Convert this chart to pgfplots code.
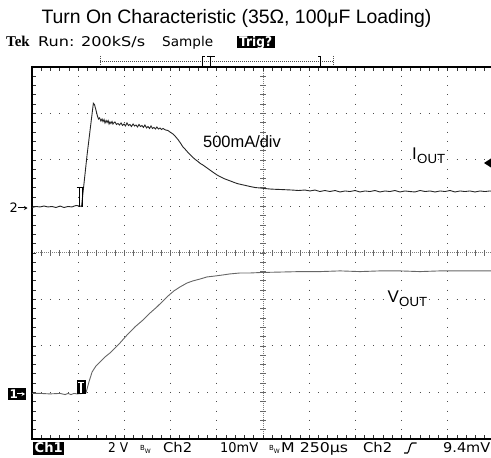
\documentclass[border=0pt]{standalone}
\usepackage{pgfplots}
\pgfplotsset{compat=1.18}
\usepackage{pgfplotstable}
\usepackage{graphicx}
\usepackage{fontspec}
\usetikzlibrary{arrows.meta}
\setmainfont{Liberation Sans}
\newfontfamily\tekfont{DejaVu Sans}
\newfontfamily\tekserif{Liberation Serif}
% screen text, stretched to the width it takes on the scope (bp)
\newcommand\tk[2]{\resizebox{#1bp}{\height}{\tekfont\fontsize{13.5}{14}\selectfont #2}}
\newcommand\bw{{\tekfont\fontsize{7}{7}\selectfont B}\raisebox{-2.5bp}{\tekfont\fontsize{6}{6}\selectfont W}}

% Ch2: output current, mA (500 mA/div), time in us (250 us/div)
\pgfplotstableread{
t I
0 -11
22 0
43 -5
65 5
87 -5
108 0
130 -11
152 5
173 -11
195 0
216 -5
238 11
260 5
268 0
298 554
332 1110
338 1097
346 1038
354 973
360 941
366 952
373 919
379 941
384 913
390 935
395 898
401 925
406 903
412 925
417 887
422 909
427 892
433 914
438 887
444 903
449 909
457 882
465 892
473 876
482 898
490 871
498 887
506 866
514 898
522 871
530 882
538 860
547 887
555 866
563 876
571 855
579 882
587 860
595 871
603 850
611 876
620 844
628 860
636 839
644 866
652 839
660 850
668 833
676 855
684 833
693 844
701 828
709 839
722 823
736 817
750 796
763 780
776 753
790 720
803 683
817 640
830 613
844 581
857 554
871 527
884 505
898 484
911 462
925 446
944 419
963 392
982 365
1001 339
1022 317
1044 296
1066 280
1088 263
1110 247
1131 237
1156 226
1180 215
1207 204
1234 199
1261 193
1288 188
1315 185
1342 183
1374 180
1407 177
1442 172
1477 177
1504 167
1531 177
1558 161
1585 172
1612 161
1640 172
1667 156
1694 167
1721 161
1748 172
1775 156
1802 167
1829 161
1856 172
1883 156
1910 167
1937 161
1964 172
1991 156
2018 167
2045 161
2072 156
2100 172
2127 161
2154 167
2181 156
2208 167
2235 161
2262 172
2289 156
2316 167
2343 161
2370 167
2397 156
2424 167
2451 161
2478 167
2500 161
}\ioutdata

% Ch1: output voltage, V (2 V/div)
\pgfplotstableread{
t V
0 -0.04
43 -0.04
97 -0.06
152 -0.04
179 -0.09
195 -0.04
211 -0.09
227 -0.04
244 -0.06
276 -0.04
292 -0.02
308 0.45
325 0.88
346 1.14
368 1.31
395 1.53
422 1.70
449 1.91
476 2.13
514 2.47
557 2.82
601 3.12
639 3.42
676 3.68
709 3.94
736 4.15
768 4.37
801 4.54
839 4.71
871 4.80
909 4.88
947 4.97
990 5.01
1028 5.05
1071 5.10
1125 5.14
1180 5.14
1234 5.16
1342 5.18
1450 5.20
1558 5.20
1667 5.23
1775 5.20
1883 5.23
1991 5.23
2099 5.20
2208 5.23
2316 5.23
2424 5.23
2500 5.23
}\voutdata

\begin{document}
\begin{tikzpicture}
\path[use as bounding box] (0,0) rectangle (491bp,458bp);
\clip (0,0) rectangle (491bp,458bp);

% graticule, in screen pixels (y downwards)
\begin{scope}[x=1bp,y=-1bp,yshift=458bp]
  \foreach \k in {1,2,3,4,6,7,8,9}
    \draw[black!70, line width=1bp, dash pattern=on 1bp off 8.3bp] ({32+46.2*\k},75.8) -- ({32+46.2*\k},439);
  \foreach \j in {1,2,3,5,6,7}
    \draw[black!70, line width=1bp, dash pattern=on 1bp off 8.24bp] (40.74,{67+46.5*\j}) -- (494,{67+46.5*\j});
  \draw[black!50, line width=1bp, dash pattern=on 1bp off 1bp] (263,67) -- (263,439);
  \draw[black!50, line width=1bp, dash pattern=on 1bp off 1bp] (32,253) -- (494,253);
  \foreach \m in {1,...,39}
    \draw[black!60, line width=0.8bp] (260,{67+9.3*\m}) -- (266,{67+9.3*\m});
  \foreach \m in {1,...,49}
    \draw[black!60, line width=0.8bp] ({32+9.24*\m},250) -- ({32+9.24*\m},256);
  \foreach \m in {1,...,49} {
    \draw[black!80, line width=0.8bp] ({32+9.24*\m},67) -- ++(0,4);
    \draw[black!80, line width=0.8bp] ({32+9.24*\m},439) -- ++(0,-4);
  }
  \foreach \m in {1,...,39}
    \draw[black!80, line width=0.8bp] (32,{67+9.3*\m}) -- ++(4,0);
  \draw[line width=2bp] (31,67) -- (495,67);
  \draw[line width=2bp] (32,66) -- (32,440);
  \draw[line width=2bp] (31,439) -- (495,439);
\end{scope}

\begin{axis}[at={(32bp,19bp)}, anchor=south west, scale only axis,
  width=462bp, height=372bp, xmin=0, xmax=2500, ymin=-2500, ymax=1500,
  hide axis]
\addplot[black!85, line width=0.9bp] table[x=t, y=I] {\ioutdata};
\end{axis}

\begin{axis}[at={(32bp,19bp)}, anchor=south west, scale only axis,
  width=462bp, height=372bp, xmin=0, xmax=2500, ymin=-2, ymax=14,
  hide axis]
\addplot[black!60, line width=0.9bp] table[x=t, y=V] {\voutdata};
\end{axis}

\begin{scope}[x=1bp,y=-1bp,yshift=458bp]
  % title
  \node[anchor=base, inner sep=0, font=\fontsize{19.5}{20}\selectfont] at (236.5,24)
    {Turn On Characteristic (35Ω, 100μF Loading)};
  % status line
  \node[anchor=base west, inner sep=0, font=\tekserif\bfseries\fontsize{15}{15}\selectfont] at (6,47) {Tek};
  \node[anchor=base west, inner sep=0] at (38,47) {\tk{107}{Run: 200kS/s}};
  \node[anchor=base west, inner sep=0] at (162,47) {\tk{51}{Sample}};
  \fill (237,36) rectangle (274.5,48.5);
  \node[anchor=base, inner sep=0, text=white] at (255.7,46.5) {\tk{33}{\bfseries Trig?}};
  % record bar
  \draw[black!70, line width=0.8bp, dash pattern=on 1bp off 1bp] (100,61) -- (333,61);
  \draw[black!70, line width=0.8bp, dash pattern=on 1bp off 1bp] (100.5,56) -- (100.5,66);
  \draw[black!70, line width=0.8bp, dash pattern=on 1bp off 1bp] (333,56) -- (333,66);
  \draw[line width=0.9bp] (205,56) -- (202.5,56) -- (202.5,66) -- (205,66);
  \draw[line width=0.9bp] (206.5,56) -- (214.5,56) (210.5,56) -- (210.5,66);
  \draw[line width=0.9bp] (318,56) -- (320.5,56) -- (320.5,66) -- (318,66);
  % channel markers
  \node[anchor=base west, inner sep=0, font=\tekfont\fontsize{13}{13}\selectfont] at (9.5,213) {2};
  \draw[line width=1bp, -{Stealth[length=3.5bp,width=4bp]}] (18,208) -- (27.5,208);
  \fill (8,388) rectangle (26,400);
  \node[anchor=base west, inner sep=0, text=white, font=\tekfont\bfseries\fontsize{12}{12}\selectfont] at (9.5,398.5) {1};
  \draw[white, line width=1bp, -{Stealth[length=3.5bp,width=4bp]}] (17,394) -- (25,394);
  % trigger marks
  \draw[line width=0.8bp] (76.5,187) -- (84,187) (79.3,187) -- (79.3,207) (82,187) -- (82,207);
  \fill (76.5,380) rectangle (85.5,394.5);
  \draw[white, line width=1.4bp] (78.3,382.6) -- (83.7,382.6) (81,382.6) -- (81,392.8);
  \fill (484,163) -- (491,158.5) -- (491,167.5) -- cycle;
  % labels
  \node[anchor=base west, inner sep=0, font=\fontsize{16.5}{17}\selectfont] at (203,147.5) {500mA/div};
  \node[anchor=base west, inner sep=0, font=\fontsize{17}{17}\selectfont] at (412,160) {I};
  \node[anchor=base west, inner sep=0, font=\fontsize{13.3}{14}\selectfont] at (417,163.5) {OUT};
  \node[anchor=base west, inner sep=0, font=\fontsize{17}{17}\selectfont] at (387.5,303) {V};
  \node[anchor=base west, inner sep=0, font=\fontsize{13.3}{14}\selectfont] at (399,307) {OUT};
  % settings line
  \fill (33,442) rectangle (63.5,455);
  \node[anchor=base west, inner sep=0, text=white] at (34.5,453) {\tk{28}{\bfseries Ch1}};
  \node[anchor=base west, inner sep=0] at (108,453) {\tk{20}{2 V}};
  \node[anchor=base west, inner sep=0] at (140,451) {\bw};
  \node[anchor=base west, inner sep=0] at (163,453) {\tk{29}{Ch2}};
  \node[anchor=base west, inner sep=0] at (220,453) {\tk{38}{10mV}};
  \node[anchor=base west, inner sep=0] at (269,451) {\bw};
  \node[anchor=base west, inner sep=0] at (281,453) {\tk{67}{M 250µs}};
  \node[anchor=base west, inner sep=0] at (363,453) {\tk{29}{Ch2}};
  \draw[line width=1.1bp] (404,453) -- (407.5,453) .. controls (409,453) and (410,443) .. (412,443) -- (416.5,443);
  \node[anchor=base west, inner sep=0] at (443,453) {\tk{47}{9.4mV}};
\end{scope}
\end{tikzpicture}
\end{document}
